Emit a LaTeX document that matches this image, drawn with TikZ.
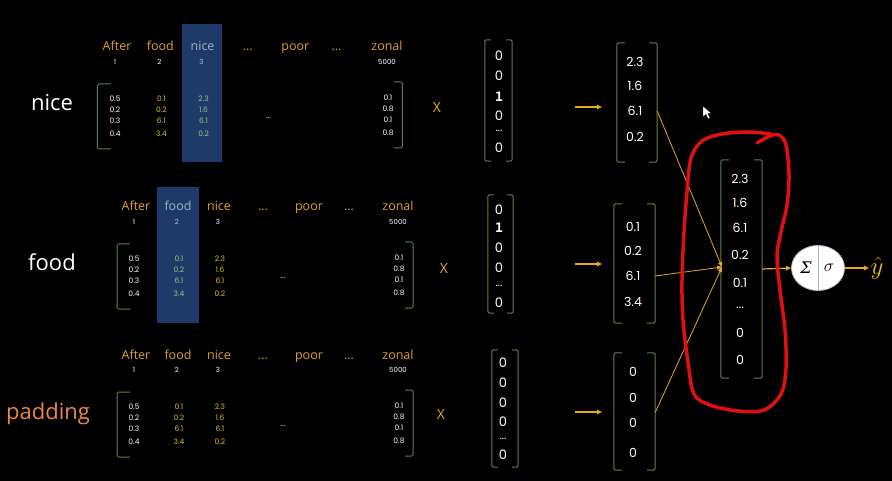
\documentclass[tikz,border=0pt]{standalone}
\usepackage{fontspec}
\setmainfont{Open Sans}
\newfontfamily\numf{Poppins}
\newfontfamily\monof{DejaVu Sans Mono}
\newfontfamily\grkf{DejaVu Serif}
\usetikzlibrary{arrows.meta,shapes.geometric}
\definecolor{hdr}{HTML}{E0A030}
\definecolor{valy}{HTML}{DCC020}
\definecolor{hlval}{HTML}{A8C080}
\definecolor{hlhd}{HTML}{9FB0C8}
\definecolor{hlix}{HTML}{B0C8E8}
\definecolor{xcol}{HTML}{F0A818}
\definecolor{padc}{HTML}{E8894A}
\definecolor{arrc}{HTML}{E8A820}
\definecolor{brkc}{HTML}{5E8040}
\definecolor{redc}{HTML}{E01010}
\definecolor{hlrect}{HTML}{1F3A68}
\definecolor{yhc}{HTML}{E8C800}
\definecolor{divc}{HTML}{9DB4D8}
\newcommand\eld{...}
\tikzset{
  hd/.style={text=hdr, font=\fontsize{12.5}{14}\selectfont, inner sep=0pt, anchor=base},
  ix/.style={text=white, font=\numf\fontsize{7}{8}\selectfont, inner sep=0pt},
  vl/.style={text=white, font=\numf\fontsize{7.5}{8}\selectfont, inner sep=0pt},
  h2/.style={}, h3/.style={}, i2/.style={}, i3/.style={},
  v2/.style={text=valy}, v3/.style={text=valy},
  brk/.style={draw=brkc, line width=1pt, rounded corners=1.5pt},
  vec/.style={inner sep=0pt},
  oh/.style={text=white, font=\numf\fontsize{13}{14}\selectfont, inner sep=0pt},
  ohd/.style={text=white, font=\numf\fontsize{11}{12}\selectfont, inner sep=0pt},
  rv/.style={text=white, font=\numf\fontsize{12.5}{14}\selectfont, inner sep=0pt},
  wlab/.style={text=white, font=\fontsize{22}{24}\selectfont, inner sep=0pt},
  xmark/.style={text=xcol, font=\fontsize{14}{16}\selectfont, inner sep=0pt},
  arr/.style={draw=arrc, line width=1.2pt, -{Triangle[length=5pt,width=4.5pt]}},
  conn/.style={draw=arrc, line width=0.8pt, -{Triangle[length=5pt,width=4pt]}},
}
\newcommand\vbrk[2]{%
  \draw[brk] ([xshift=#2]#1.north west) -- (#1.north west) -- (#1.south west) -- ([xshift=#2]#1.south west);
  \draw[brk] ([xshift=-#2]#1.north east) -- (#1.north east) -- (#1.south east) -- ([xshift=-#2]#1.south east);}
\newcommand\embblock[2]{%
\begin{scope}[#2]
  \node[hd] (#1-h1) at (136,211) {After};
  \node[hd,h2] (#1-h2) at (178,211) {food};
  \node[hd,h3] (#1-h3) at (219,211) {nice};
  \node[hd] (#1-h4) at (263,211) {...};
  \node[hd] (#1-h5) at (309,211) {poor};
  \node[hd] (#1-h6) at (349,211) {...};
  \node[hd] (#1-h7) at (398,211) {zonal};
  \node[ix] (#1-i1) at (134,222) {1};
  \node[ix,i2] (#1-i2) at (177,222) {2};
  \node[ix,i3] (#1-i3) at (218,222) {3};
  \node[ix] (#1-i7) at (398,222) {5000};
  \draw[brk] (130,244) -- (117,244) -- (117,309) -- (130,309);
  \draw[brk] (405,242) -- (413,242) -- (413,308) -- (405,308);
  \foreach \k/\y/\a/\b/\c/\d in {1/259/0.5/0.1/2.3/0.1, 2/270/0.2/0.2/1.6/0.8, 3/281/0.3/6.1/6.1/0.1, 4/294/0.4/3.4/0.2/0.8}{
    \node[vl] (#1-a\k) at (134,\y) {\a};
    \node[vl,v2] (#1-b\k) at (179,\y) {\b};
    \node[vl,v3] (#1-c\k) at (220,\y) {\c};
    \node[vl] (#1-d\k) at (399,\y-1.5) {\d};
  }
  \node[vl] (#1-dots) at (283,278) {...};
\end{scope}}
\begin{document}
\begin{tikzpicture}[x=1pt,y=-1pt]
\fill[black] (0,0) rectangle (892,481);
\useasboundingbox (0,0) rectangle (892,481);
% highlight columns
\fill[hlrect] (182,24) rectangle (222,162);
\fill[hlrect] (157,187) rectangle (199,323);
% embedding blocks
\embblock{b1}{shift={(-23.06,-160)}, xscale=1.0303, h3/.style={text=hlhd}, i3/.style={text=hlix}, v3/.style={text=hlval}}
\embblock{b2}{h2/.style={text=hlhd}, i2/.style={text=hlix}, v2/.style={text=hlval}}
\embblock{b3}{shift={(0,148)}}
% word labels
\node[wlab] (w1) at (52,103) {nice};
\node[wlab] (w2) at (52,262) {food};
\node[wlab, text=padc] (w3) at (48,414) {padding};
% multiplication marks
\node[xmark] (x1) at (437,108) {X};
\node[xmark] (x2) at (444,269) {X};
\node[xmark] (x3) at (441,415) {X};
% one-hot vectors
\node[vec, minimum width=27pt, minimum height=121pt] (oh1) at (498.5,100.5) {};
\vbrk{oh1}{6pt}
\foreach \y/\t [count=\k] in {56/0,76/0,97/{\monof\bfseries 1},116/0,148/0}
  \node[oh] (oh1-\k) at (499,\y) {\t};
\node[ohd] (oh1-d) at (499,131) {\eld};
\node[vec, minimum width=25pt, minimum height=118pt] (oh2) at (500.5,254) {};
\vbrk{oh2}{6pt}
\foreach \y/\t [count=\k] in {210/0,228/{\monof\bfseries 1},248/0,268/0,303/0}
  \node[oh] (oh2-\k) at (499,\y) {\t};
\node[ohd] (oh2-d) at (499,286) {\eld};
\node[vec, minimum width=26pt, minimum height=117pt] (oh3) at (505,408.5) {};
\vbrk{oh3}{6pt}
\foreach \y/\t [count=\k] in {363/0,383/0,403/0,422/0,455/0}
  \node[oh] (oh3-\k) at (503,\y) {\t};
\node[ohd] (oh3-d) at (503,439) {\eld};
% result vectors
\node[vec, minimum width=40pt, minimum height=119pt] (r1) at (637,102.5) {};
\vbrk{r1}{8pt}
\foreach \y/\t [count=\k] in {62/2.3,86/1.6,111/6.1,137/0.2}
  \node[rv] (r1-\k) at (635,\y) {\t};
\node[vec, minimum width=41pt, minimum height=119pt] (r2) at (634.5,263.5) {};
\vbrk{r2}{8pt}
\foreach \y/\t [count=\k] in {227/0.1,251/0.2,276/6.1,302/3.4}
  \node[rv] (r2-\k) at (633,\y) {\t};
\node[vec, minimum width=41pt, minimum height=117pt] (r3) at (634.5,411.5) {};
\vbrk{r3}{8pt}
\foreach \y/\t [count=\k] in {372/0,398/0,423/0,453/0}
  \node[rv] (r3-\k) at (633,\y) {\t};
% arrows one-hot -> result
\coordinate (a1s) at (575,107); \coordinate (a1e) at (602,107);
\coordinate (a2s) at (575,264); \coordinate (a2e) at (602,264);
\coordinate (a3s) at (575,412); \coordinate (a3e) at (602,412);
\draw[arr] (a1s) -- (a1e);
\draw[arr] (a2s) -- (a2e);
\draw[arr] (a3s) -- (a3e);
% concatenated vector
\node[vec, minimum width=41pt, minimum height=218pt] (cv) at (741.5,269) {};
\vbrk{cv}{8pt}
\foreach \y/\t [count=\k] in {179/2.3,203/1.6,228/6.1,255/0.2,283/0.1,333/0,360/0}
  \node[rv] (cv-\k) at (740,\y) {\t};
\node[rv] (cv-d) at (740,308) {\eld};
% converging lines
\coordinate (cin) at (722,267);
\draw[conn] (r1.east |- r1-3) -- (cin);
\draw[conn] (r2.east |- r2-3) -- (cin);
\draw[conn] ([yshift=-1pt]r3.east) -- (cin);
% neuron
\node[ellipse, draw=gray!50, line width=0.8pt, fill=white, minimum width=53pt, minimum height=45pt, inner sep=0pt] (nu) at (818,268) {};
\draw[draw=divc, line width=0.8pt] (nu.north) -- (nu.south);
\node[inner sep=0pt, font=\grkf\itshape\fontsize{16}{18}\selectfont] (sig) at (806,268) {Σ};
\node[inner sep=0pt, font=\fontsize{18}{18}\selectfont] (sgm) at (829,268) {$\sigma$};
\node[inner sep=1.5pt, text=yhc, font=\fontsize{25}{26}\selectfont] (yh) at (877,268) {$\hat{y}$};
\draw[arr] (cv.east) -- (nu.west);
\draw[arr] (nu.east) -- (yh.west);
% red freehand loop
\draw[redc, line width=3.5pt, line cap=round, line join=round] plot[smooth, tension=0.55] coordinates {
 (757,143) (770,136) (779,135) (786,145) (789,175) (787,205) (781,232) (777,256) (780,290)
 (785,330) (786,368) (781,394) (764,410) (738,411) (710,405) (694,394) (688,362) (683,320)
 (682,280) (684,232) (687,192) (691,158) (702,141) (722,134) (748,132) (771,134)};
% mouse cursor
\draw[fill=white, draw=black, line width=0.4pt] (703,106) -- (703,117) -- (706,114.5) -- (708,119) -- (710,118) -- (708,113.5) -- (711.5,113.5) -- cycle;
\end{tikzpicture}
\end{document}
